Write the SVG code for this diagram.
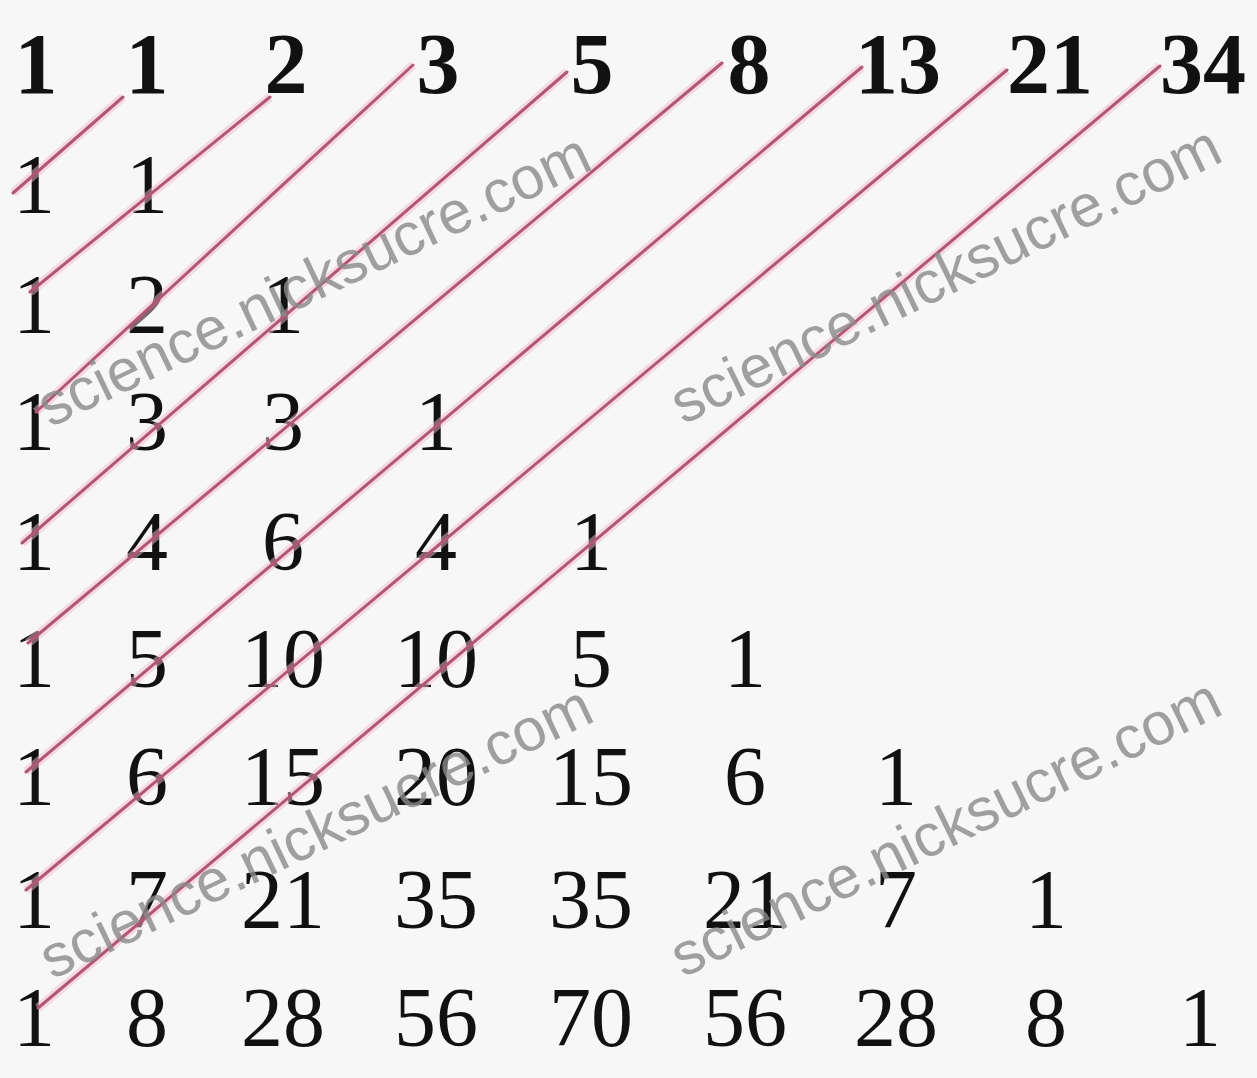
<svg xmlns="http://www.w3.org/2000/svg" width="1257" height="1078" viewBox="0 0 1257 1078">
<style>
.n{font-family:"Liberation Serif","Times New Roman",serif;font-size:84px;fill:#111;text-anchor:middle}
.f{font-family:"Liberation Serif","Times New Roman",serif;font-size:86px;font-weight:bold;fill:#111;text-anchor:middle}
.ln{stroke:#b25675;stroke-width:3;fill:none;stroke-linecap:round}
.halo{stroke:#f4bccd;stroke-width:9;fill:none;opacity:.5}
.wm{font-family:"Liberation Sans",Arial,sans-serif;font-size:60px;fill:#8a8a8a;opacity:.8}
</style>
<rect width="1257" height="1078" fill="#f7f7f7"/>
<g id="fib-row">
<text class="f" x="36" y="93">1</text>
<text class="f" x="147" y="93">1</text>
<text class="f" x="286" y="93">2</text>
<text class="f" x="438" y="93">3</text>
<text class="f" x="592" y="93">5</text>
<text class="f" x="749" y="93">8</text>
<text class="f" x="898" y="93">13</text>
<text class="f" x="1050" y="93">21</text>
<text class="f" x="1203" y="93">34</text>
</g>
<g id="pascal">
<g id="row1"><text class="n" x="34" y="213">1</text><text class="n" x="147" y="213">1</text></g>
<g id="row2"><text class="n" x="34" y="333">1</text><text class="n" x="147" y="333">2</text><text class="n" x="283" y="333">1</text></g>
<g id="row3"><text class="n" x="34" y="450">1</text><text class="n" x="147" y="450">3</text><text class="n" x="283" y="450">3</text><text class="n" x="436" y="450">1</text></g>
<g id="row4"><text class="n" x="34" y="570">1</text><text class="n" x="147" y="570">4</text><text class="n" x="283" y="570">6</text><text class="n" x="436" y="570">4</text><text class="n" x="591" y="570">1</text></g>
<g id="row5"><text class="n" x="34" y="687">1</text><text class="n" x="147" y="687">5</text><text class="n" x="283" y="687">10</text><text class="n" x="436" y="687">10</text><text class="n" x="591" y="687">5</text><text class="n" x="745" y="687">1</text></g>
<g id="row6"><text class="n" x="34" y="805">1</text><text class="n" x="147" y="805">6</text><text class="n" x="283" y="805">15</text><text class="n" x="436" y="805">20</text><text class="n" x="591" y="805">15</text><text class="n" x="745" y="805">6</text><text class="n" x="896" y="805">1</text></g>
<g id="row7"><text class="n" x="34" y="928">1</text><text class="n" x="147" y="928">7</text><text class="n" x="283" y="928">21</text><text class="n" x="436" y="928">35</text><text class="n" x="591" y="928">35</text><text class="n" x="745" y="928">21</text><text class="n" x="896" y="928">7</text><text class="n" x="1046" y="928">1</text></g>
<g id="row8"><text class="n" x="34" y="1046">1</text><text class="n" x="147" y="1046">8</text><text class="n" x="283" y="1046">28</text><text class="n" x="436" y="1046">56</text><text class="n" x="591" y="1046">70</text><text class="n" x="745" y="1046">56</text><text class="n" x="896" y="1046">28</text><text class="n" x="1046" y="1046">8</text><text class="n" x="1200" y="1046">1</text></g>
</g>
<g id="connectors">
<path class="halo" d="M123 97L13 193M270 97L30 292M413 65L36 412M567 72L22 543M722 63L28 643M862 67L26 772M1007 70L26 890M1160 66L38 1008"/>
<line class="ln" x1="123" y1="97" x2="13" y2="193"/>
<line class="ln" x1="270" y1="97" x2="30" y2="292"/>
<line class="ln" x1="413" y1="65" x2="36" y2="412"/>
<line class="ln" x1="567" y1="72" x2="22" y2="543"/>
<line class="ln" x1="722" y1="63" x2="28" y2="643"/>
<line class="ln" x1="862" y1="67" x2="26" y2="772"/>
<line class="ln" x1="1007" y1="70" x2="26" y2="890"/>
<line class="ln" x1="1160" y1="66" x2="38" y2="1008"/>
</g>
<g id="watermarks">
<text class="wm" transform="translate(50 428) rotate(-25.5)">science.nicksucre.com</text>
<text class="wm" transform="translate(683 425) rotate(-26)">science.nicksucre.com</text>
<text class="wm" transform="translate(52 980) rotate(-25.5)">science.nicksucre.com</text>
<text class="wm" transform="translate(683 978) rotate(-26)">science.nicksucre.com</text>
</g>
</svg>
